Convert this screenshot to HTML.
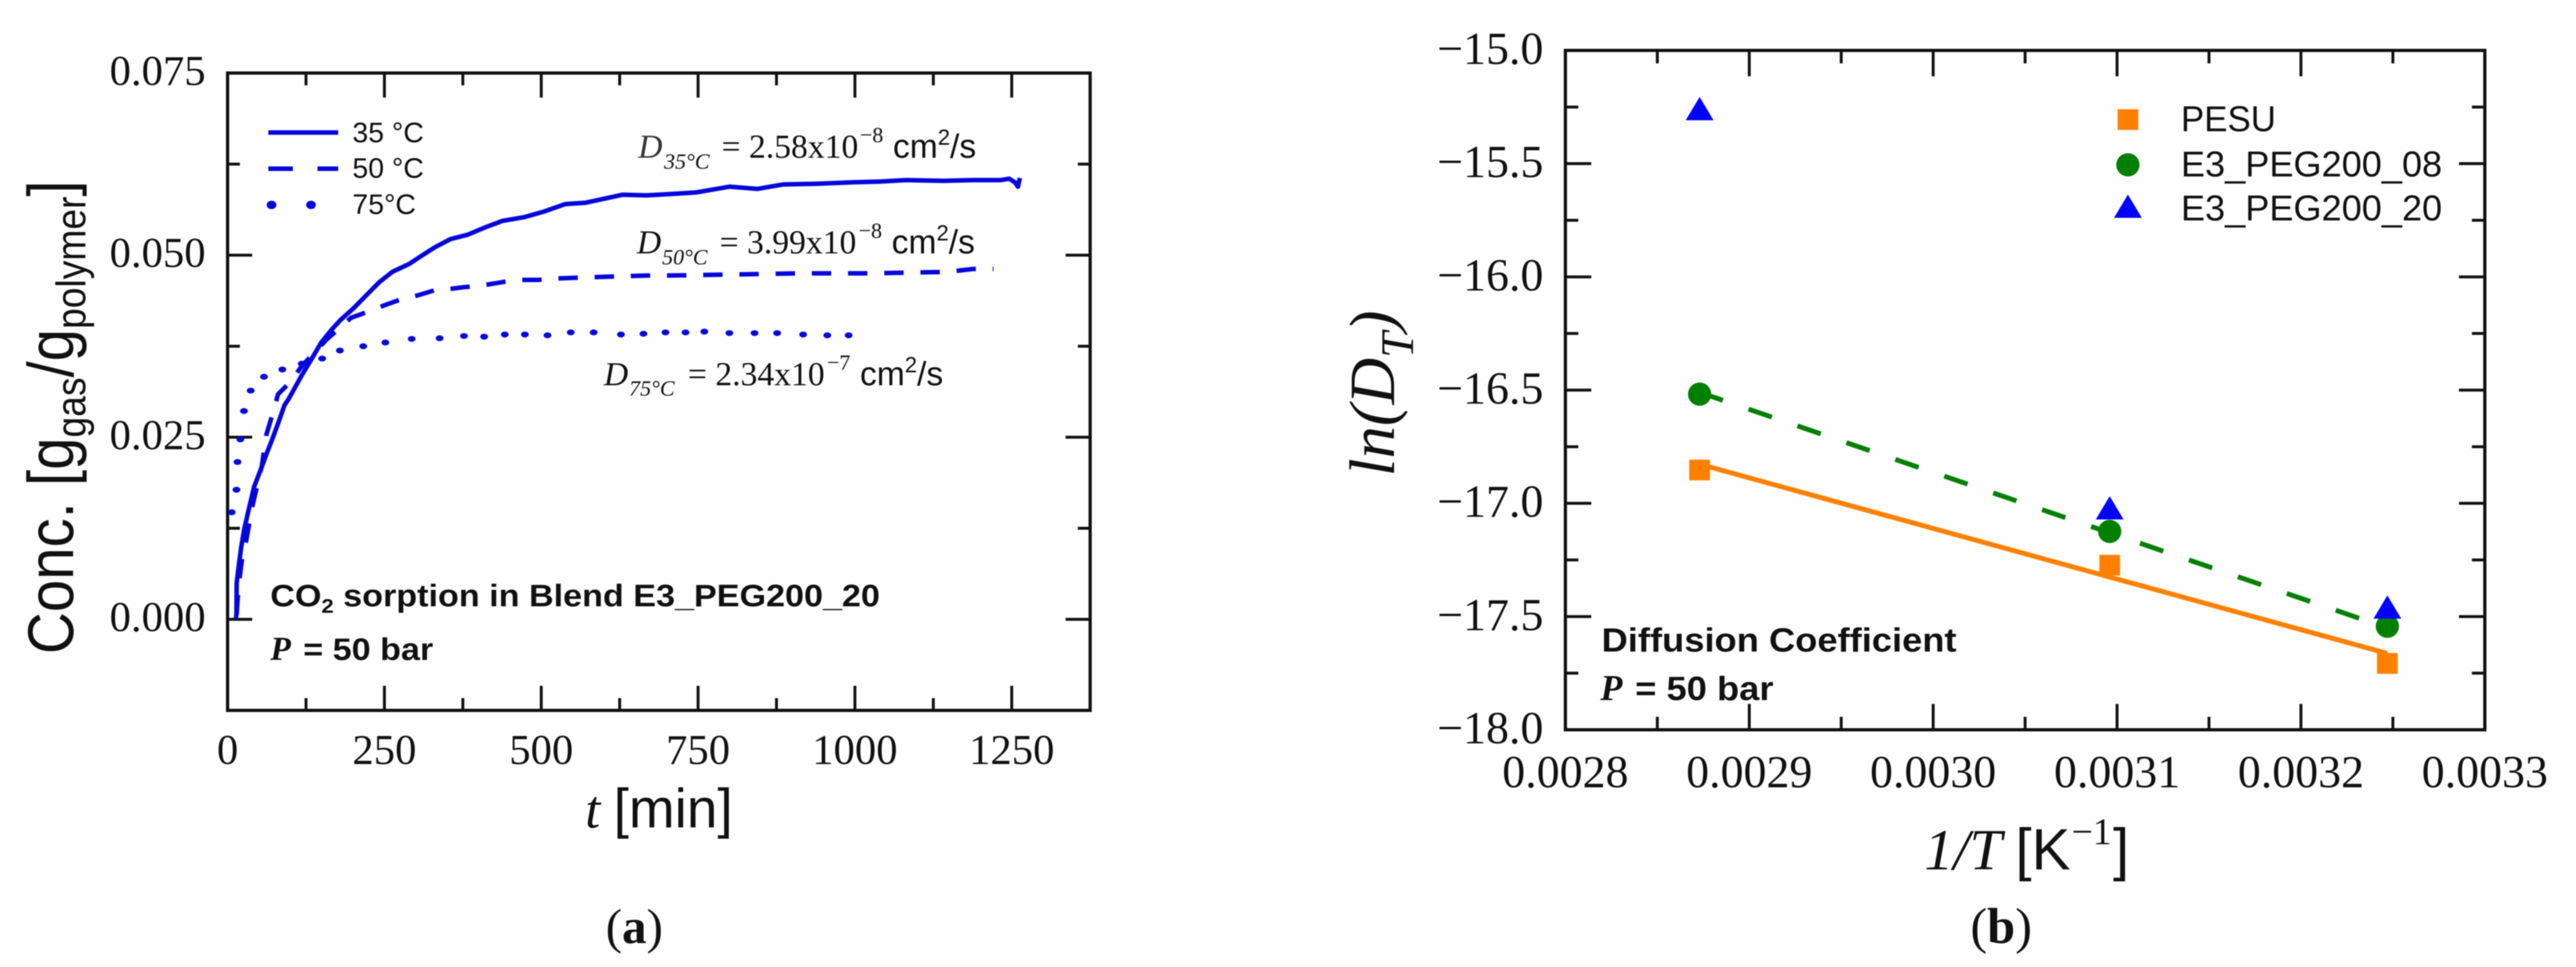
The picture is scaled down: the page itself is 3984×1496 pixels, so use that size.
<!DOCTYPE html>
<html lang="en">
<head>
<meta charset="utf-8">
<title>CO2 sorption and diffusion coefficient charts</title>
<style>
  html, body { margin: 0; padding: 0; background: #fefefe; }
  #figure { display: block; width: 3984px; height: 1496px; filter: blur(0.7px); }
  .serif { font-family: "Liberation Serif", serif; fill: #111; }
  .sans { font-family: "Liberation Sans", sans-serif; fill: #111; }
  .it { font-style: italic; }
  .bd { font-weight: bold; }
</style>
</head>
<body>
<svg id="figure" xmlns="http://www.w3.org/2000/svg" width="3984" height="1496" viewBox="0 0 3984 1496">
  <rect x="0" y="0" width="3984" height="1496" fill="#fefefe"/>

  <g id="panel-a">
    <text class="sans" transform="translate(113,1012) rotate(-90) scale(0.9,1)" font-size="100">Conc. [g<tspan font-size="64" dy="19">gas</tspan><tspan dy="-19">/g</tspan><tspan font-size="64" dy="19">polymer</tspan><tspan dy="-19">]</tspan></text>
    <g>
      <text class="serif it" x="905" y="1280" font-size="84">t</text>
      <text class="sans" x="949" y="1280" font-size="85">[min]</text>
    </g>
    <g>
      <text class="sans" x="545" y="220" font-size="44">35 °C</text>
      <text class="sans" x="545" y="275" font-size="44">50 °C</text>
      <text class="sans" x="545" y="331" font-size="44">75°C</text>
      <line x1="415" y1="205" x2="523" y2="205" stroke="#0606dc" stroke-width="7"/>
      <line x1="415" y1="261" x2="523" y2="261" stroke="#0606dc" stroke-width="7" stroke-dasharray="38 38"/>
      <ellipse cx="420" cy="317" rx="7.5" ry="6.5" fill="#0606dc"/>
      <ellipse cx="481" cy="317" rx="7.5" ry="6.5" fill="#0606dc"/>
    </g>
    <g>
      <text class="serif it" x="987" y="244" font-size="52" fill-opacity="0.85">D</text>
      <text class="serif it" x="1027" y="261" font-size="34">35°C</text>
      <text class="serif" x="1116" y="244" font-size="52">= 2.58x10</text>
      <text class="serif" x="1330" y="220" font-size="34">−8</text>
      <text class="sans" x="1381" y="244" font-size="52">cm<tspan font-size="34" dy="-20">2</tspan><tspan dy="20">/s</tspan></text>
    </g>
    <g>
      <text class="serif it" x="985" y="392" font-size="52">D</text>
      <text class="serif it" x="1024" y="409" font-size="34">50°C</text>
      <text class="serif" x="1113" y="392" font-size="52">= 3.99x10</text>
      <text class="serif" x="1328" y="368" font-size="34">−8</text>
      <text class="sans" x="1379" y="392" font-size="52">cm<tspan font-size="34" dy="-20">2</tspan><tspan dy="20">/s</tspan></text>
    </g>
    <g>
      <text class="serif it" x="934" y="596" font-size="52">D</text>
      <text class="serif it" x="973" y="612" font-size="34">75°C</text>
      <text class="serif" x="1064" y="596" font-size="52">= 2.34x10</text>
      <text class="serif" x="1279" y="572" font-size="34">−7</text>
      <text class="sans" x="1330" y="596" font-size="52">cm<tspan font-size="34" dy="-20">2</tspan><tspan dy="20">/s</tspan></text>
    </g>
    <g>
      <text class="sans bd" transform="translate(418,938) scale(1.1,1)" font-size="48">CO<tspan font-size="31" dy="10">2</tspan><tspan dy="-10"> sorption in Blend E3_PEG200_20</tspan></text>
      <text class="serif bd it" x="418" y="1021" font-size="52">P</text>
      <text class="sans bd" transform="translate(469,1021) scale(1.1,1)" font-size="48">= 50 bar</text>
    </g>
    <text class="serif" x="981" y="1459" text-anchor="middle" font-size="76" fill="#000">(<tspan font-weight="bold">a</tspan>)</text>
  </g>

  <g id="panel-b">
    <text class="serif it" transform="translate(2156,737) rotate(-90)" font-size="100">ln(D<tspan font-size="72" dy="29">T</tspan><tspan dy="-29">)</tspan></text>
    <g>
      <text class="serif it" x="2976" y="1345" font-size="90">1/T</text>
      <text class="sans" x="3117" y="1345" font-size="90">[K</text>
      <text class="serif" x="3204" y="1306" font-size="58">−1</text>
      <text class="sans" x="3268" y="1345" font-size="90">]</text>
    </g>
    <g>
      <text class="sans" x="3373" y="203" font-size="56" textLength="147" lengthAdjust="spacingAndGlyphs">PESU</text>
      <text class="sans" x="3373" y="273" font-size="56" textLength="404" lengthAdjust="spacingAndGlyphs">E3_PEG200_08</text>
      <text class="sans" x="3373" y="341" font-size="56" textLength="404" lengthAdjust="spacingAndGlyphs">E3_PEG200_20</text>
      <rect x="3275" y="169" width="32" height="32" fill="#ff8000"/>
      <circle cx="3291" cy="255" r="18" fill="#008000"/>
      <polygon points="3291,301 3312.5,337 3269.5,337" fill="#0000ff"/>
    </g>
    <g>
      <text class="sans bd" transform="translate(2477,1008) scale(1.08,1)" font-size="52">Diffusion Coefficient</text>
      <text class="serif bd it" x="2475" y="1083" font-size="56">P</text>
      <text class="sans bd" transform="translate(2529,1083) scale(1.08,1)" font-size="52">= 50 bar</text>
    </g>
    <text class="serif" x="3095" y="1459" text-anchor="middle" font-size="78" fill="#000">(<tspan font-weight="bold">b</tspan>)</text>
  </g>
</svg>

<script>
// ---------- Panel (a) data: sorption curves ----------
const sorptionXTicks = [0, 250, 500, 750, 1000, 1250];
const sorptionXMinor = [125, 375, 625, 875, 1125, 1375];
const sorptionYTicks = [0, 0.025, 0.05, 0.075];
const sorptionYLabels = ['0.000', '0.025', '0.050', '0.075'];
const sorptionYMinor = [-0.0125, 0.0125, 0.0375, 0.0625];

const time35 = [13, 14.1, 14.4, 16.8, 21.6, 26.8, 34, 42.3, 52.6, 62.9, 71.9, 82.2, 90.7, 97.6, 118.2, 135, 149.2, 166, 180.1, 200.7, 221.3, 242, 262.6, 289.7, 307.2, 330.9, 355.4, 382.5, 410.3, 437.8, 472.2, 505, 538, 571, 630, 668, 707, 746, 800, 845, 885, 940, 997, 1040, 1082, 1141, 1190, 1233, 1246, 1255, 1260, 1263];
const conc35 = [0, 0.0007, 0.0049, 0.0067, 0.0099, 0.0125, 0.0152, 0.0182, 0.0205, 0.0229, 0.0249, 0.0273, 0.0294, 0.0303, 0.0335, 0.0359, 0.038, 0.0398, 0.0411, 0.0427, 0.0445, 0.0463, 0.0477, 0.0488, 0.0498, 0.0511, 0.0522, 0.0528, 0.0538, 0.0547, 0.0552, 0.056, 0.057, 0.0572, 0.0583, 0.0582, 0.0584, 0.0586, 0.0594, 0.0591, 0.0597, 0.0598, 0.06, 0.0601, 0.0603, 0.0602, 0.0603, 0.0603, 0.0605, 0.06, 0.0594, 0.0606];

const time50 = [14.4, 17.5, 23.7, 29.9, 39.2, 54.6, 61.9, 71.1, 80.4, 97.9, 118.6, 157.7, 196.9, 222.7, 246.4, 275.3, 304.1, 330.9, 348.5, 376.3, 404.1, 438.1, 465, 494.8, 525, 591, 668, 701, 845, 911, 983, 1023, 1082, 1148, 1188, 1221];
const conc50 = [0.0007, 0.0047, 0.0087, 0.0109, 0.0154, 0.0211, 0.0254, 0.028, 0.0309, 0.0324, 0.0348, 0.0384, 0.0414, 0.0422, 0.043, 0.0439, 0.0445, 0.0452, 0.0453, 0.0456, 0.0458, 0.0463, 0.0466, 0.0466, 0.0468, 0.047, 0.0472, 0.0472, 0.0474, 0.0475, 0.0475, 0.0475, 0.0476, 0.0477, 0.0481, 0.0481];

const time75 = [6.6, 14.1, 15.8, 20.3, 26.1, 36.8, 58, 87.3, 118.2, 150.8, 179, 216.2, 251.5, 293.5, 338, 376.8, 409, 441.9, 473.9, 510, 547, 583.5, 627, 663, 698, 730, 760, 800, 840, 876, 917.5, 956, 990];
const conc75 = [0.0147, 0.0178, 0.0216, 0.0247, 0.0286, 0.0314, 0.0333, 0.0343, 0.0351, 0.0358, 0.0369, 0.0375, 0.038, 0.0385, 0.0386, 0.0389, 0.0388, 0.0391, 0.0391, 0.039, 0.0394, 0.0394, 0.0391, 0.0392, 0.0394, 0.0394, 0.0395, 0.0393, 0.0393, 0.0393, 0.0391, 0.039, 0.039];

// ---------- Panel (b) data: ln(D) against 1/T ----------
const diffusionXTicks = [0.0028, 0.0029, 0.003, 0.0031, 0.0032, 0.0033];
const diffusionXLabels = ['0.0028', '0.0029', '0.0030', '0.0031', '0.0032', '0.0033'];
const diffusionXMinor = [0.00285, 0.00295, 0.00305, 0.00315, 0.00325];
const diffusionYTicks = [-15, -15.5, -16, -16.5, -17, -17.5, -18];
const diffusionYLabels = ['−15.0', '−15.5', '−16.0', '−16.5', '−17.0', '−17.5', '−18.0'];
const diffusionYMinor = [-15.25, -15.75, -16.25, -16.75, -17.25, -17.75];

const inverseT = [0.002873, 0.003096, 0.003247];
const lnPesu = [-16.853, -17.273, -17.707];
const lnPeg08 = [-16.518, -17.124, -17.543];
const lnPeg20 = [-15.257, -17.02, -17.458];
const fitX = [0.002873, 0.003247];
const fitPesu = [-16.827, -17.663];
const fitPeg08 = [-16.51, -17.55];

// ---------- Drawing helpers ----------
const SVG_NS = 'http://www.w3.org/2000/svg';
function make(tag, attrs, parent) {
  const node = document.createElementNS(SVG_NS, tag);
  Object.keys(attrs).forEach(function (k) { node.setAttribute(k, attrs[k]); });
  parent.appendChild(node);
  return node;
}
function pathFrom(xs, ys, sx, sy) {
  return xs.map(function (x, i) {
    return (i ? 'L' : 'M') + sx(x).toFixed(1) + ' ' + sy(ys[i]).toFixed(1);
  }).join(' ');
}
function drawFrame(parent, box, xTicks, xMinor, yTicks, yMinor, sx, sy, majorLen, minorLen) {
  const g = make('g', { stroke: '#111', 'stroke-width': 4.5, fill: 'none' }, parent);
  
  
  xTicks.concat(xMinor).forEach(function (v, i) {
    const len = i < xTicks.length ? majorLen : minorLen;
    const x = sx(v);
    const bottom = make('line', { x1: x, x2: x, y1: box.bottom, y2: box.bottom - len }, g);
    
    
    const top = make('line', { x1: x, x2: x, y1: box.top, y2: box.top + len }, g);
    
    
  });
  yTicks.concat(yMinor).forEach(function (v, i) {
    const len = i < yTicks.length ? majorLen : minorLen;
    const y = sy(v);
    const left = make('line', { x1: box.left, x2: box.left + len, y1: y, y2: y }, g);
    
    
    const right = make('line', { x1: box.right, x2: box.right - len, y1: y, y2: y }, g);
    
    
  });
  const border = make('rect', { x: box.left, y: box.top, width: box.right - box.left, height: box.bottom - box.top, 'stroke-width': 5 }, g);
  
  
}
function drawLabel(parent, x, y, str, size, anchor, name) {
  const t = make('text', { x: x, y: y, 'font-size': size, 'text-anchor': anchor, class: 'serif' }, parent);
  t.textContent = str;
  
  
}

// ---------- Panel (a) ----------
const panelA = document.getElementById('panel-a');
const boxA = { left: 352, right: 1686, top: 113, bottom: 1099 };
const xDomainA = [0, 1375];
const yDomainA = [-0.0125, 0.075];
function xA(v) { return boxA.left + (v - xDomainA[0]) / (xDomainA[1] - xDomainA[0]) * (boxA.right - boxA.left); }
function yA(v) { return boxA.bottom - (v - yDomainA[0]) / (yDomainA[1] - yDomainA[0]) * (boxA.bottom - boxA.top); }

drawFrame(panelA, boxA, sorptionXTicks, sorptionXMinor, sorptionYTicks, sorptionYMinor, xA, yA, 38, 19);
sorptionXTicks.forEach(function (v) {
  drawLabel(panelA, xA(v), 1182, String(v), 66, 'middle', 'x-tick-label');
});
sorptionYTicks.forEach(function (v, i) {
  drawLabel(panelA, 318, yA(v) + 18.5, sorptionYLabels[i], 66, 'end', 'y-tick-label');
});

const curve35 = make('path', { d: pathFrom(time35, conc35, xA, yA), fill: 'none', stroke: '#0606dc', 'stroke-width': 7, 'stroke-linejoin': 'round' }, panelA);



const curve50 = make('path', { d: pathFrom(time50, conc50, xA, yA), fill: 'none', stroke: '#0606dc', 'stroke-width': 7, 'stroke-dasharray': '30 26', 'stroke-linejoin': 'round' }, panelA);



const dots75 = make('g', { fill: '#0606dc' }, panelA);


time75.forEach(function (t, i) {
  const dot = make('ellipse', { cx: xA(t).toFixed(1), cy: yA(conc75[i]).toFixed(1), rx: 6, ry: 4.6 }, dots75);
  
  
});

// ---------- Panel (b) ----------
const panelB = document.getElementById('panel-b');
const boxB = { left: 2421, right: 3843, top: 78, bottom: 1129 };
const xDomainB = [0.0028, 0.0033];
const yDomainB = [-18, -15];
function xB(v) { return boxB.left + (v - xDomainB[0]) / (xDomainB[1] - xDomainB[0]) * (boxB.right - boxB.left); }
function yB(v) { return boxB.bottom - (v - yDomainB[0]) / (yDomainB[1] - yDomainB[0]) * (boxB.bottom - boxB.top); }

drawFrame(panelB, boxB, diffusionXTicks, diffusionXMinor, diffusionYTicks, diffusionYMinor, xB, yB, 40, 20);
diffusionXTicks.forEach(function (v, i) {
  drawLabel(panelB, xB(v), 1218, diffusionXLabels[i], 71, 'middle', 'x-tick-label');
});
diffusionYTicks.forEach(function (v, i) {
  drawLabel(panelB, 2387, yB(v) + 21, diffusionYLabels[i], 71, 'end', 'y-tick-label');
});

const linePesu = make('path', { d: pathFrom(fitX, fitPesu, xB, yB), fill: 'none', stroke: '#ff8000', 'stroke-width': 7.5 }, panelB);



const linePeg08 = make('path', { d: pathFrom(fitX, fitPeg08, xB, yB), fill: 'none', stroke: '#008000', 'stroke-width': 7.5, 'stroke-dasharray': '38 42' }, panelB);



inverseT.forEach(function (x, i) {
  const cx = xB(x);
  const sq = make('rect', { x: cx - 16, y: yB(lnPesu[i]) - 16, width: 32, height: 32, fill: '#ff8000' }, panelB);
  
  
});
inverseT.forEach(function (x, i) {
  const circle = make('circle', { cx: xB(x), cy: yB(lnPeg08[i]), r: 18, fill: '#008000' }, panelB);
  
  
});
inverseT.forEach(function (x, i) {
  const cx = xB(x);
  const cy = yB(lnPeg20[i]);
  const tri = make('polygon', { points: cx + ',' + (cy - 18) + ' ' + (cx + 21.5) + ',' + (cy + 18) + ' ' + (cx - 21.5) + ',' + (cy + 18), fill: '#0000ff' }, panelB);
  
  
});
</script>
</body>
</html>
